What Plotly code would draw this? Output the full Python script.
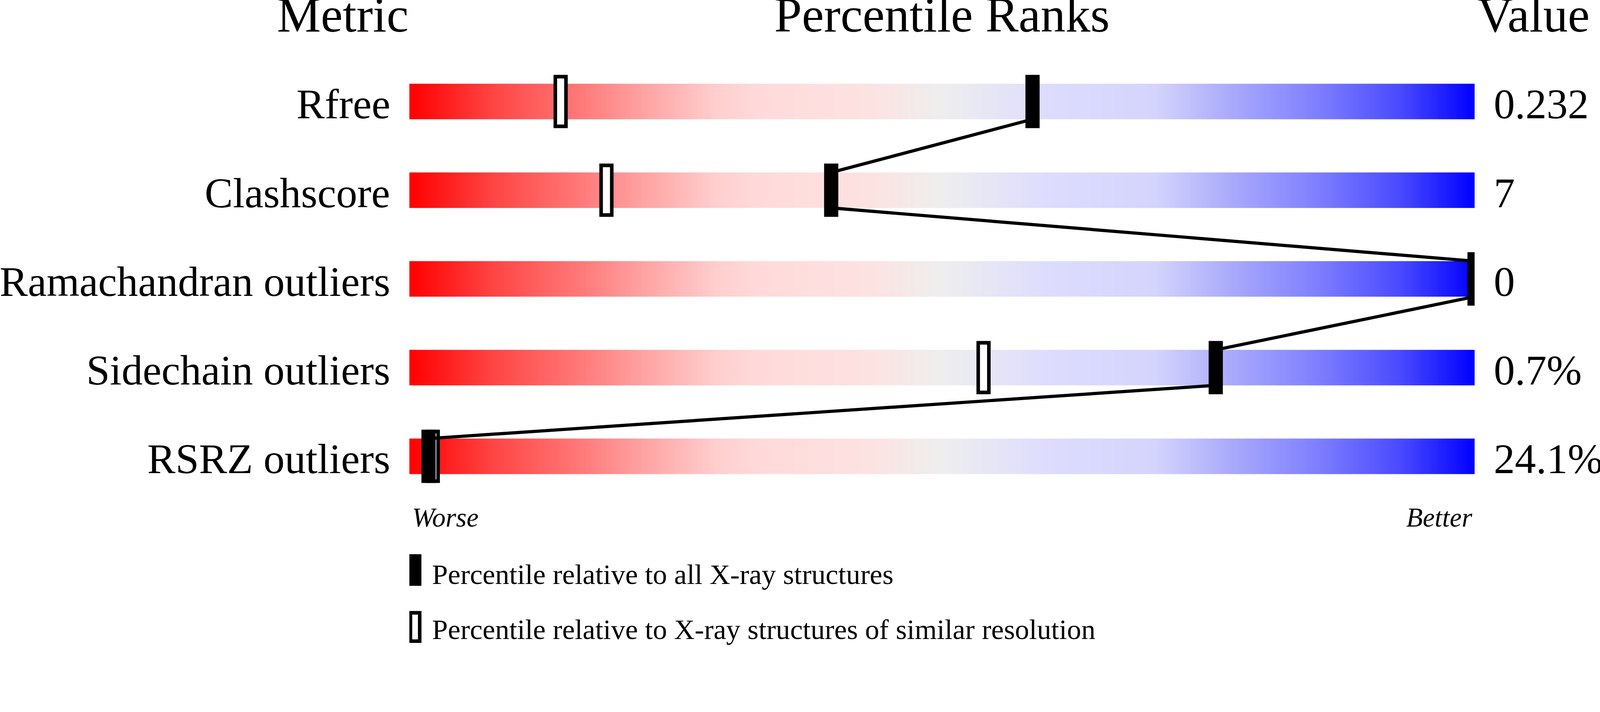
import plotly.graph_objects as go

# dados do slider de validacao
metricas = ['Rfree', 'Clashscore', 'Ramachandran outliers', 'Sidechain outliers', 'RSRZ outliers']
valores = ['0.232', '7', '0', '0.7%', '24.1%']
pct_todas = [58.5, 39.6, 100, 75.7, 1.8]        # percentil vs todas as estruturas X-ray
pct_similar = [14.2, 18.5, 100, 53.9, 2.2]      # percentil vs resolucao similar

cores = [
    [0.0, '#ff0000'], [0.08, '#ff4545'], [0.17, '#ff7f7f'], [0.22, '#ffa3a3'],
    [0.29, '#ffcfcf'], [0.33, '#ffdada'], [0.43, '#fde2e2'], [0.5, '#eeeeee'],
    [0.6, '#dddcfe'], [0.7, '#d4d4fd'], [0.76, '#b0b0fb'], [0.85, '#8080ff'],
    [0.93, '#4a4aff'], [1.0, '#0000ff'],
]

fonte = 'Liberation Serif'
S = 1 / 1.1   # escala de pixels (a pagina sai ampliada ~1.1x)
n = len(metricas)
meia = 0.2  # metade da altura da barra (em linhas)

fig = go.Figure()

# barras com gradiente
grad_x = [i / 10 for i in range(1001)]
grad_z = [[(grad_x[i] + grad_x[i + 1]) / 2 for i in range(1000)]]
for i in range(n):
    fig.add_trace(go.Heatmap(
        x=grad_x, y=[i - meia, i + meia], z=grad_z,
        colorscale=cores, zmin=0, zmax=100, showscale=False, hoverinfo='skip'
    ))

# marcador vazado (resolucao similar)
fig.add_trace(go.Bar(
    y=list(range(n)), x=[1.0] * n, base=[p - 0.5 for p in pct_similar],
    orientation='h', width=0.56, cliponaxis=False,
    marker=dict(color='white', line=dict(color='black', width=10 * S)),
    showlegend=False
))

# marcador cheio (todas as estruturas)
fig.add_trace(go.Bar(
    y=list(range(n)), x=[1.333] * n, base=[p - 0.667 for p in pct_todas],
    orientation='h', width=0.6, cliponaxis=False,
    marker=dict(color='black', line=dict(width=0)),
    showlegend=False
))

# linha ligando os marcadores cheios
lx, ly = [], []
for i in range(n - 1):
    lx += [pct_todas[i], pct_todas[i + 1], None]
    ly += [i + meia, i + 1 - meia, None]
fig.add_trace(go.Scatter(
    x=lx, y=ly, mode='lines', line=dict(color='black', width=9 * S),
    cliponaxis=False, showlegend=False, hoverinfo='skip'
))

anot = []
# cabecalhos
anot.append(dict(x=0.0, y=-0.975, text='Metric', xanchor='right', font=dict(size=139)))
anot.append(dict(x=0.5, y=-0.975, text='Percentile Ranks', xanchor='center', font=dict(size=140)))
anot.append(dict(x=1.002, y=-0.975, text='Value', xanchor='left', font=dict(size=139)))

for i in range(n):
    anot.append(dict(x=-0.0173, y=i + 0.03, text=metricas[i], xanchor='right', font=dict(size=119)))
    anot.append(dict(x=1.0173, y=i + 0.03, text=valores[i], xanchor='left', font=dict(size=119)))

anot.append(dict(x=0.0017, y=4.69, text='<i>Worse</i>', xanchor='left', font=dict(size=76)))
anot.append(dict(x=0.999, y=4.69, text='<i>Better</i>', xanchor='right', font=dict(size=76)))
anot.append(dict(x=0.0207, y=5.33, text='Percentile relative to all X-ray structures', xanchor='left', font=dict(size=80)))
anot.append(dict(x=0.0207, y=5.95, text='Percentile relative to X-ray structures of similar resolution', xanchor='left', font=dict(size=80)))

for a in anot:
    a.update(xref='paper', yref='y', yanchor='middle', showarrow=False)
    a['font'].update(family=fonte, color='black', size=a['font']['size'] * S)

fig.update_layout(
    width=round(4506 * S), height=round(1824 * S),
    margin=dict(l=1153 * S, r=353 * S, t=0, b=0),
    paper_bgcolor='white', plot_bgcolor='white',
    barmode='overlay',
    xaxis=dict(range=[0, 100], visible=False, fixedrange=True),
    yaxis=dict(range=[6.152, -1.144], visible=False, fixedrange=True),
    annotations=anot,
    shapes=[
        dict(type='rect', xref='x', yref='y', x0=-0.07, x1=1.13, y0=5.104, y1=5.46,
             fillcolor='black', line=dict(width=0)),
        dict(type='rect', xref='x', yref='y', x0=0.1, x1=0.97, y0=5.764, y1=6.084,
             fillcolor='white', line=dict(color='black', width=10 * S)),
    ],
)

# tira a margem padrao do body para o grafico encostar no canto
fig.write_html("out.html", config={'displayModeBar': False},
               post_script="document.body.style.margin = '0';")
